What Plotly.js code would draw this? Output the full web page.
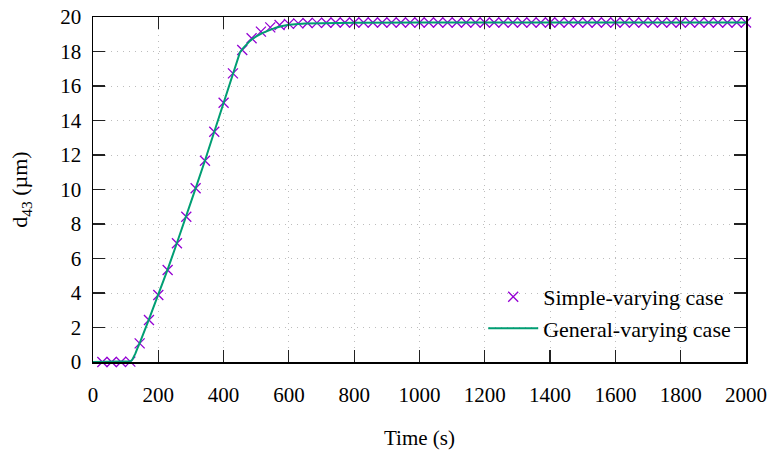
<!DOCTYPE html>
<html>
<head>
<meta charset="utf-8">
<script src="https://cdn.plot.ly/plotly-3.0.1.min.js"></script>
<style>html,body{margin:0;padding:0;background:#fff;}#chart{width:773px;height:457px;}</style>
</head>
<body>
<div id="chart"></div>
<script>
// Simple-varying case (markers)
const simpleTime = [28.6,57.1,85.7,114.3,142.9,171.4,200,228.6,257.1,285.7,314.3,342.9,371.4,400,428.6,457.1,485.7,514.3,542.9,571.4,600,628.6,657.1,685.7,714.3,742.9,771.4,800,828.6,857.1,885.7,914.3,942.9,971.4,1000,1028.6,1057.1,1085.7,1114.3,1142.9,1171.4,1200,1228.6,1257.1,1285.7,1314.3,1342.9,1371.4,1400,1428.6,1457.1,1485.7,1514.3,1542.9,1571.4,1600,1628.6,1657.1,1685.7,1714.3,1742.9,1771.4,1800,1828.6,1857.1,1885.7,1914.3,1942.9,1971.4,2000];
const simpleD43 = [0,0,0,0.02,1.08,2.43,3.88,5.33,6.88,8.42,10.07,11.67,13.35,15.03,16.73,18.09,18.77,19.15,19.40,19.54,19.60,19.63,19.65,19.66,19.67,
  19.68,19.68,19.68,19.68,19.68,19.68,19.68,19.68,19.68,19.68,19.68,19.68,19.68,19.68,19.68,19.68,19.68,19.68,19.68,19.68,
  19.68,19.68,19.68,19.68,19.68,19.68,19.68,19.68,19.68,19.68,19.68,19.68,19.68,19.68,19.68,19.68,19.68,19.68,19.68,19.68,
  19.68,19.68,19.68,19.68,19.68];
// General-varying case (line)
const generalTime = [0,100,110,115,120,125,130,135,143,171,200,229,257,286,314,343,371,400,429,450,460,470,480,490,500,520,540,560,580,600,650,700,800,1000,1500,2000];
const generalD43 = [0,0,0.01,0.04,0.12,0.28,0.5,0.75,1.1,2.45,3.9,5.38,6.9,8.45,10.05,11.68,13.35,15.02,16.7,17.95,18.2,18.42,18.6,18.75,18.88,19.08,19.25,19.38,19.48,19.55,19.62,19.65,19.67,19.68,19.68,19.68];
const xTicks = [0,200,400,600,800,1000,1200,1400,1600,1800,2000];
const yTicks = [0,2,4,6,8,10,12,14,16,18,20];

const FONT = "'Liberation Serif', 'DejaVu Serif', serif";
const traces = [
  {x: simpleTime, y: simpleD43, mode: 'markers', type: 'scatter', name: 'Simple-varying case',
   cliponaxis: false,
   marker: {symbol: 'x-thin', size: 10, color: '#9400d3', line: {color: '#9400d3', width: 1.3}}},
  {x: generalTime, y: generalD43, mode: 'lines', type: 'scatter', name: 'General-varying case',
   cliponaxis: false,
   line: {color: '#009e73', width: 2}}
];
const axisCommon = {
  showline: true, linecolor: '#000', linewidth: 1.5, mirror: 'ticks',
  ticks: 'inside', ticklen: 12, tickwidth: 1.2, tickcolor: '#222',
  showgrid: true, gridcolor: '#bdbdbd', griddash: '1px,5px', gridwidth: 1,
  zeroline: false, tickfont: {family: FONT, size: 21, color: '#000'}
};
const layout = {
  width: 773, height: 457,
  margin: {l: 93, r: 27, t: 17, b: 95},
  paper_bgcolor: '#fff', plot_bgcolor: '#fff',
  font: {family: FONT, size: 21, color: '#000'},
  showlegend: true,
  xaxis: Object.assign({}, axisCommon, {range: [0, 2000], tickvals: xTicks, ticktext: xTicks.map(String),
    ticklabelstandoff: 13,
    title: {text: 'Time (s)', font: {family: FONT, size: 21}, standoff: 24}}),
  yaxis: Object.assign({}, axisCommon, {range: [0, 20], tickvals: yTicks, ticktext: yTicks.map(String),
    ticklabelstandoff: 6,
    title: {text: 'd<sub>43</sub> (µm)', font: {family: FONT, size: 22}, standoff: 26}}),
  legend: {x: 0.985, y: 0.035, xanchor: 'right', yanchor: 'bottom', bgcolor: 'rgba(0,0,0,0)',
    font: {family: FONT, size: 22}, tracegroupgap: 0, itemwidth: 50}
};
Plotly.newPlot('chart', traces, layout, {staticPlot: true, displayModeBar: false});
</script>
</body>
</html>
